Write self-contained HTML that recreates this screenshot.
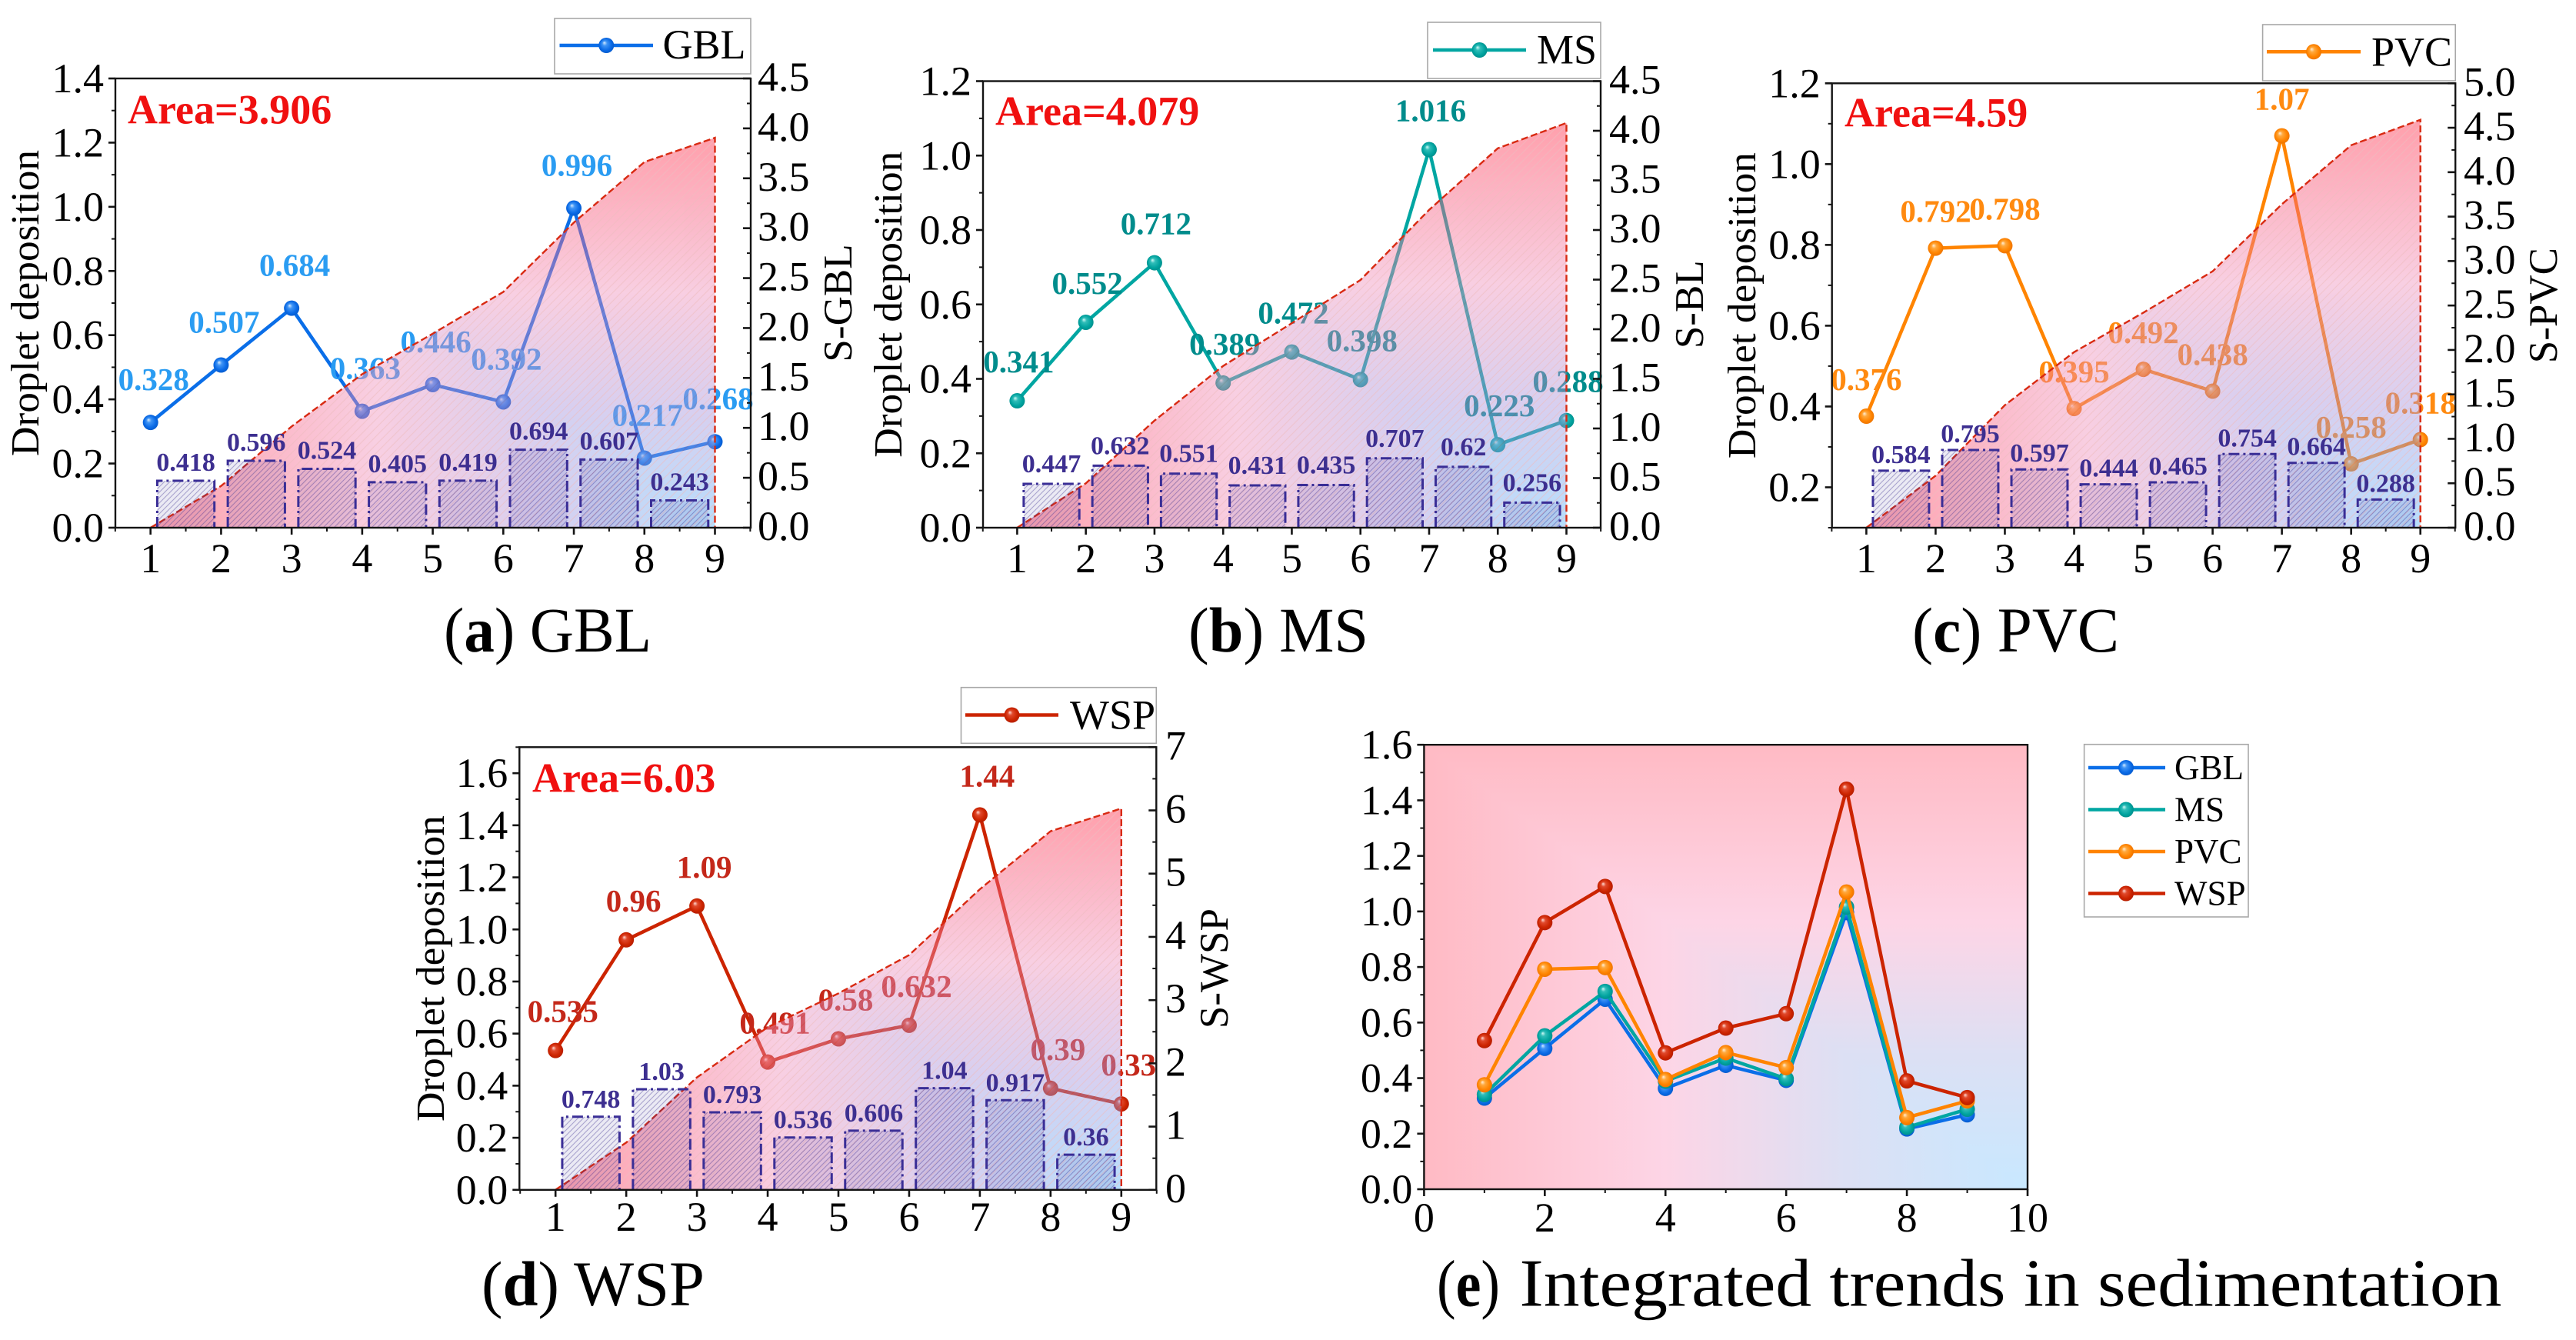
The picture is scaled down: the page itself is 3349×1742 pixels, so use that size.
<!DOCTYPE html>
<html lang="en">
<head>
<meta charset="utf-8">
<title>Droplet deposition by paper type</title>
<style>
html,body{margin:0;padding:0;background:#fff;width:3349px;height:1742px;overflow:hidden}
svg{display:block;font-family:"Liberation Serif",serif}
</style>
</head>
<body>
<svg id="figure" xmlns="http://www.w3.org/2000/svg" width="3349" height="1742" viewBox="0 0 3349 1742">
<defs>
<linearGradient id="areaH" x1="1" y1="0" x2="0" y2="0"><stop offset="0" stop-color="#61b6f9"/><stop offset=".3" stop-color="#a997de"/><stop offset=".6" stop-color="#f095bf"/><stop offset="1" stop-color="#ff2c47"/></linearGradient>
<linearGradient id="areaV" x1="0" y1="1" x2="0" y2="0"><stop offset="0" stop-color="#61b6f9"/><stop offset=".3" stop-color="#a997de"/><stop offset=".6" stop-color="#f095bf"/><stop offset="1" stop-color="#ff2c47"/></linearGradient>
<linearGradient id="bgH" x1="1" y1="0" x2="0" y2="0"><stop offset="0" stop-color="#c8e8ff"/><stop offset=".3" stop-color="#dce0f4"/><stop offset=".6" stop-color="#fdd5e6"/><stop offset="1" stop-color="#ffbac4"/></linearGradient>
<linearGradient id="bgV" x1="0" y1="1" x2="0" y2="0"><stop offset="0" stop-color="#c8e8ff"/><stop offset=".3" stop-color="#dce0f4"/><stop offset=".6" stop-color="#fdd5e6"/><stop offset="1" stop-color="#ffbac4"/></linearGradient>
<pattern id="areaHatch" patternUnits="userSpaceOnUse" width="11" height="11"><path d="M-1 1L1 -1M0 11L11 0M10 12L12 10" stroke="#d86a70" stroke-opacity=".55" stroke-width="1.2"/></pattern>
<pattern id="barHatch" patternUnits="userSpaceOnUse" width="7" height="7"><rect width="7" height="7" fill="#3c3296" fill-opacity=".1"/><path d="M-1 1L1 -1M0 7L7 0M6 8L8 6" stroke="#3a2e90" stroke-opacity=".38" stroke-width="1.1"/></pattern>
<radialGradient id="ball-GBL" cx=".5" cy=".5" r=".55" fx=".36" fy=".32"><stop offset="0" stop-color="#d8ecff"/><stop offset=".28" stop-color="#3f94f5"/><stop offset=".7" stop-color="#0a6ae6"/><stop offset="1" stop-color="#0558c8"/></radialGradient>
<radialGradient id="ball-MS" cx=".5" cy=".5" r=".55" fx=".36" fy=".32"><stop offset="0" stop-color="#d4fbf8"/><stop offset=".28" stop-color="#30bdb8"/><stop offset=".7" stop-color="#00a39f"/><stop offset="1" stop-color="#008a88"/></radialGradient>
<radialGradient id="ball-PVC" cx=".5" cy=".5" r=".55" fx=".36" fy=".32"><stop offset="0" stop-color="#ffeed8"/><stop offset=".28" stop-color="#ffa83c"/><stop offset=".7" stop-color="#ff8400"/><stop offset="1" stop-color="#e87000"/></radialGradient>
<radialGradient id="ball-WSP" cx=".5" cy=".5" r=".55" fx=".36" fy=".32"><stop offset="0" stop-color="#ffdcd6"/><stop offset=".28" stop-color="#e0492c"/><stop offset=".7" stop-color="#cc2400"/><stop offset="1" stop-color="#b01c00"/></radialGradient>
</defs>
</svg>
<script>
const categories = [1, 2, 3, 4, 5, 6, 7, 8, 9];

const gblValues = [0.328, 0.507, 0.684, 0.363, 0.446, 0.392, 0.996, 0.217, 0.268];
const msValues = [0.341, 0.552, 0.712, 0.389, 0.472, 0.398, 1.016, 0.223, 0.288];
const pvcValues = [0.376, 0.792, 0.798, 0.395, 0.492, 0.438, 1.07, 0.258, 0.318];
const wspValues = [0.535, 0.96, 1.09, 0.491, 0.58, 0.632, 1.44, 0.39, 0.33];

const gblSegments = [0.418, 0.596, 0.524, 0.405, 0.419, 0.694, 0.607, 0.243];
const msSegments = [0.447, 0.632, 0.551, 0.431, 0.435, 0.707, 0.62, 0.256];
const pvcSegments = [0.584, 0.795, 0.597, 0.444, 0.465, 0.754, 0.664, 0.288];
const wspSegments = [0.748, 1.03, 0.793, 0.536, 0.606, 1.04, 0.917, 0.36];

const gblCumulative = [0, 0.418, 1.014, 1.538, 1.943, 2.362, 3.056, 3.663, 3.906];
const msCumulative = [0, 0.447, 1.079, 1.63, 2.061, 2.496, 3.203, 3.823, 4.079];
const pvcCumulative = [0, 0.584, 1.379, 1.976, 2.42, 2.885, 3.639, 4.303, 4.59];
const wspCumulative = [0, 0.748, 1.778, 2.571, 3.107, 3.713, 4.753, 5.67, 6.03];

const gblLeftTicks = ['0.0', '0.2', '0.4', '0.6', '0.8', '1.0', '1.2', '1.4'];
const msLeftTicks = ['0.0', '0.2', '0.4', '0.6', '0.8', '1.0', '1.2'];
const pvcLeftTicks = ['0.2', '0.4', '0.6', '0.8', '1.0', '1.2'];
const wspLeftTicks = ['0.0', '0.2', '0.4', '0.6', '0.8', '1.0', '1.2', '1.4', '1.6'];
const gblRightTicks = ['0.0', '0.5', '1.0', '1.5', '2.0', '2.5', '3.0', '3.5', '4.0', '4.5'];
const msRightTicks = ['0.0', '0.5', '1.0', '1.5', '2.0', '2.5', '3.0', '3.5', '4.0', '4.5'];
const pvcRightTicks = ['0.0', '0.5', '1.0', '1.5', '2.0', '2.5', '3.0', '3.5', '4.0', '4.5', '5.0'];
const wspRightTicks = ['0', '1', '2', '3', '4', '5', '6', '7'];
const summaryYTicks = ['0.0', '0.2', '0.4', '0.6', '0.8', '1.0', '1.2', '1.4', '1.6'];
const summaryXTicks = ['0', '2', '4', '6', '8', '10'];

const NS = 'http://www.w3.org/2000/svg';
const fig = document.getElementById('figure');
const AXIS = '#141414';
const TICK_FONT = 54;

function mk(tag, attrs, parent) {
  const el = document.createElementNS(NS, tag);
  for (const k in attrs) el.setAttribute(k, attrs[k]);
  parent.appendChild(el);
  return el;
}
function label(parent, str, attrs) {
  const el = mk('text', attrs, parent);
  el.textContent = str;
  return el;
}
function tick(parent, x1, y1, x2, y2, major) {
  const el = mk('line', {x1: x1, y1: y1, x2: x2, y2: y2, stroke: AXIS, 'stroke-width': major ? 2.6 : 2}, parent);
  
  
  return el;
}
function pathOf(pts) {
  return pts.map(function (p, i) { return (i ? 'L' : 'M') + p[0].toFixed(1) + ' ' + p[1].toFixed(1); }).join('');
}
function ball(parent, key, cx, cy) {
  const el = mk('circle', {cx: cx, cy: cy, r: 10, fill: 'url(#ball-' + key + ')'}, parent);
  
  
  return el;
}
function minorsBetween(values, lo, hi) {
  const out = [];
  for (let i = 0; i + 1 < values.length; i++) out.push((values[i] + values[i + 1]) / 2);
  const step = values[1] - values[0];
  if (values[0] - step / 2 >= lo - 1e-6) out.push(values[0] - step / 2);
  if (values[values.length - 1] + step / 2 <= hi + 1e-6) out.push(values[values.length - 1] + step / 2);
  return out;
}

const panels = [
  {key: 'GBL', values: gblValues, seg: gblSegments, cum: gblCumulative, lt: gblLeftTicks, rt: gblRightTicks,
   l: 150, r: 976, t: 102, b: 686, x1v: 195.7, x9v: 929.5, lMin: 0, lMax: 1.4, rMax: 4.5, barMax: 4.0,
   color: '#0a6ee8', text: '#2a9cf2', area: 'Area=3.906', areaX: 166, areaY: 160.5,
   ldx: 4, ldy: -42, bdy: -13, yTitleX: 50, sTitle: 'S-GBL', sX: 1107, rLabX: 985,
   leg: [721, 24, 255, 72], legLine: [727.5, 849, 59], legTextX: 861.5, legBase: 76, xBase: 744,
   capX: 577, capBase: 847, capL: 'a', capR: 'GBL', capLen: 270, capSize: 83},
  {key: 'MS', values: msValues, seg: msSegments, cum: msCumulative, lt: msLeftTicks, rt: msRightTicks,
   l: 1278, r: 2081, t: 105.5, b: 686, x1v: 1322.4, x9v: 2036.5, lMin: 0, lMax: 1.2, rMax: 4.5, barMax: 4.55,
   color: '#00a6a2', text: '#008c8c', area: 'Area=4.079', areaX: 1294, areaY: 162.7,
   ldx: 2, ldy: -37, bdy: -15, yTitleX: 1172, sTitle: 'S-BL', sX: 2214, rLabX: 2092,
   leg: [1856, 29, 225, 73], legLine: [1863, 1984, 65], legTextX: 1998, legBase: 82.5, xBase: 744,
   capX: 1545, capBase: 847, capL: 'b', capR: 'MS', capLen: 234, capSize: 83},
  {key: 'PVC', values: pvcValues, seg: pvcSegments, cum: pvcCumulative, lt: pvcLeftTicks, rt: pvcRightTicks,
   l: 2381.7, r: 3192.2, t: 108.3, b: 686, x1v: 2426.4, x9v: 3146.7, lMin: 0.1, lMax: 1.2, rMax: 5, barMax: 4.55,
   color: '#ff8400', text: '#ff8a10', area: 'Area=4.59', areaX: 2398, areaY: 164.4,
   ldx: 0, ldy: -34, bdy: -10, yTitleX: 2282, sTitle: 'S-PVC', sX: 3324, rLabX: 3203,
   leg: [2941.6, 32, 250.6, 73], legLine: [2947, 3069, 67.3], legTextX: 3083, legBase: 85.3, xBase: 744,
   capX: 2486, capBase: 847, capL: 'c', capR: 'PVC', capLen: 269, capSize: 83},
  {key: 'WSP', values: wspValues, seg: wspSegments, cum: wspCumulative, lt: wspLeftTicks, rt: wspRightTicks,
   l: 675.3, r: 1503.3, t: 971.3, b: 1546.8, x1v: 722.2, x9v: 1457.8, lMin: 0, lMax: 1.7, rMax: 7, barMax: 4.53,
   color: '#cc2400', text: '#c4281a', area: 'Area=6.03', areaX: 692, areaY: 1029.5,
   ldx: 9.5, ldy: -37, bdy: -12, yTitleX: 577, sTitle: 'S-WSP', sX: 1596, rLabX: 1515,
   leg: [1249.5, 893.7, 253.8, 72.6], legLine: [1255, 1376, 929.5], legTextX: 1391, legBase: 947.6, xBase: 1600,
   capX: 626, capBase: 1697, capL: 'd', capR: 'WSP', capLen: 290, capSize: 83}
];

panels.forEach(function (p) {
  const name = p.key.toLowerCase();
  const X = function (v) { return p.x1v + (v - 1) * (p.x9v - p.x1v) / 8; };
  const YL = function (v) { return p.b - (v - p.lMin) / (p.lMax - p.lMin) * (p.b - p.t); };
  const YR = function (v) { return p.b - v / p.rMax * (p.b - p.t); };
  const YB = function (v) { return p.b - v / p.barMax * (p.b - p.t); };
  const g = mk('g', {}, fig);
  
  

  // deposition line and its value labels sit beneath the translucent area
  const linePts = categories.map(function (c, i) { return [X(c), YL(p.values[i])]; });
  const line = mk('path', {d: pathOf(linePts), fill: 'none', stroke: p.color, 'stroke-width': 4.5, 'stroke-linejoin': 'round'}, g);
  
  
  categories.forEach(function (c, i) {
    ball(g, p.key, X(c), YL(p.values[i]));
    const t = label(g, String(p.values[i]), {x: X(c) + p.ldx, y: YL(p.values[i]) + p.ldy, 'text-anchor': 'middle', 'font-size': 41, 'font-weight': 'bold', fill: p.text});
    
    
  });

  // cumulative area
  const areaPts = categories.map(function (c, i) { return [X(c), YR(p.cum[i])]; });
  const closed = pathOf(areaPts) + 'L' + X(9).toFixed(1) + ' ' + p.b + 'Z';
  const clip = mk('clipPath', {id: 'clip-' + name}, g);
  
  
  mk('path', {d: closed}, clip);
  const top = YR(p.cum[p.cum.length - 1]);
  const ag = mk('g', {'clip-path': 'url(#clip-' + name + ')', opacity: 0.45}, g);
  
  
  const bx0 = X(1), bx1 = X(9);
  mk('rect', {x: bx0, y: top, width: bx1 - bx0, height: p.b - top, fill: 'url(#areaV)'}, ag);
  mk('polygon', {points: bx0 + ',' + top + ' ' + bx1 + ',' + p.b + ' ' + bx0 + ',' + p.b, fill: 'url(#areaH)'}, ag);
  mk('rect', {x: bx0, y: top, width: bx1 - bx0, height: p.b - top, fill: 'url(#areaHatch)'}, ag);
  const edge = mk('path', {d: pathOf(areaPts) + 'L' + X(9).toFixed(1) + ' ' + p.b, fill: 'none', stroke: '#d82a12', 'stroke-width': 2.4, 'stroke-dasharray': '9 4'}, g);
  
  

  // segment bars
  p.seg.forEach(function (v, i) {
    const cx = X(categories[i]) + (X(2) - X(1)) / 2;
    const w = (X(2) - X(1)) * 0.81;
    const y = YB(v);
    const bar = mk('rect', {x: cx - w / 2, y: y, width: w, height: p.b - y, fill: 'url(#barHatch)'}, g);
    
    
    const edgeBar = mk('path', {d: 'M' + (cx - w / 2) + ' ' + p.b + 'V' + y + 'H' + (cx + w / 2) + 'V' + p.b, fill: 'none', stroke: '#3a2e96', 'stroke-width': 3, 'stroke-dasharray': '14 5 3 5'}, g);
    
    
    const t = label(g, String(v), {x: cx, y: y + p.bdy, 'text-anchor': 'middle', 'font-size': 34, 'font-weight': 'bold', fill: '#3d2f90'});
    
    
  });

  // frame
  const frame = mk('rect', {x: p.l, y: p.t, width: p.r - p.l, height: p.b - p.t, fill: 'none', stroke: AXIS, 'stroke-width': 2.4}, g);
  
  

  // left axis
  const lNums = p.lt.map(Number);
  p.lt.forEach(function (s) {
    const v = Number(s);
    tick(g, p.l - 9, YL(v), p.l, YL(v), true);
    const t = label(g, s, {x: p.l - 15, y: YL(v) + 18, 'text-anchor': 'end', 'font-size': TICK_FONT, fill: '#000'});
    
    
  });
  minorsBetween(lNums, p.lMin, p.lMax).forEach(function (v) { tick(g, p.l - 5, YL(v), p.l, YL(v), false); });

  // right axis (ticks point inward)
  const rNums = p.rt.map(Number);
  p.rt.forEach(function (s) {
    const v = Number(s);
    tick(g, p.r - 10, YR(v), p.r, YR(v), true);
    const t = label(g, s, {x: p.rLabX, y: YR(v) + 16, 'font-size': TICK_FONT, fill: '#000'});
    
    
  });
  minorsBetween(rNums, 0, p.rMax).forEach(function (v) { tick(g, p.r - 5, YR(v), p.r, YR(v), false); });

  // x axis
  categories.forEach(function (c) {
    tick(g, X(c), p.b, X(c), p.b + 9, true);
    const t = label(g, String(c), {x: X(c), y: p.xBase, 'text-anchor': 'middle', 'font-size': TICK_FONT, fill: '#000'});
    
    
    tick(g, X(c) - (X(2) - X(1)) / 2, p.b, X(c) - (X(2) - X(1)) / 2, p.b + 5, false);
  });
  tick(g, X(9) + (X(2) - X(1)) / 2, p.b, X(9) + (X(2) - X(1)) / 2, p.b + 5, false);

  // axis titles
  const midY = (p.t + p.b) / 2;
  const yt = label(g, 'Droplet deposition', {transform: 'translate(' + p.yTitleX + ',' + (midY) + ') rotate(-90)', 'text-anchor': 'middle', 'font-size': 52, textLength: 398, lengthAdjust: 'spacingAndGlyphs', fill: '#000'});
  
  
  const st = label(g, p.sTitle, {transform: 'translate(' + p.sX + ',' + (midY) + ') rotate(-90)', 'text-anchor': 'middle', 'font-size': 53, fill: '#000'});
  
  

  // area annotation
  const at = label(g, p.area, {x: p.areaX, y: p.areaY, 'font-size': 54, 'font-weight': 'bold', fill: '#f01010'});
  
  

  // legend
  const lg = mk('g', {}, g);
  
  
  const box = mk('rect', {x: p.leg[0], y: p.leg[1], width: p.leg[2], height: p.leg[3], fill: '#fff', stroke: '#a8a8a8', 'stroke-width': 1.6}, lg);
  
  
  const ll = mk('line', {x1: p.legLine[0], y1: p.legLine[2], x2: p.legLine[1], y2: p.legLine[2], stroke: p.color, 'stroke-width': 4.5}, lg);
  
  
  ball(lg, p.key, (p.legLine[0] + p.legLine[1]) / 2, p.legLine[2]);
  const lt = label(lg, p.key, {x: p.legTextX, y: p.legBase, 'font-size': 54, fill: '#000'});
  
  

  // caption
  const cap = mk('text', {x: p.capX, y: p.capBase, 'font-size': p.capSize, textLength: p.capLen, lengthAdjust: 'spacingAndGlyphs', fill: '#000'}, g);
  
  
  cap.appendChild(document.createTextNode('('));
  const capB = mk('tspan', {'font-weight': 'bold'}, cap);
  capB.textContent = p.capL;
  cap.appendChild(document.createTextNode(') ' + p.capR));
});

// summary panel (e)
(function () {
  const L = 1851.4, R = 2636, T = 968.2, B = 1546;
  const X = function (v) { return L + v / 10 * (R - L); };
  const Y = function (v) { return B - v / 1.6 * (B - T); };
  const g = mk('g', {}, fig);
  
  
  const bg = mk('g', {}, g);
  
  
  mk('rect', {x: L, y: T, width: R - L, height: B - T, fill: 'url(#bgV)'}, bg);
  mk('polygon', {points: L + ',' + T + ' ' + R + ',' + B + ' ' + L + ',' + B, fill: 'url(#bgH)'}, bg);

  const series = [
    {key: 'GBL', values: gblValues, color: '#0a6ee8'},
    {key: 'MS', values: msValues, color: '#00a6a2'},
    {key: 'PVC', values: pvcValues, color: '#ff8400'},
    {key: 'WSP', values: wspValues, color: '#cc2400'}
  ];
  series.forEach(function (s) {
    const pts = categories.map(function (c, i) { return [X(c), Y(s.values[i])]; });
    const ln = mk('path', {d: pathOf(pts), fill: 'none', stroke: s.color, 'stroke-width': 4.5, 'stroke-linejoin': 'round'}, g);
    
    
    categories.forEach(function (c, i) { ball(g, s.key, X(c), Y(s.values[i])); });
  });

  const frame = mk('rect', {x: L, y: T, width: R - L, height: B - T, fill: 'none', stroke: AXIS, 'stroke-width': 2.4}, g);
  
  

  summaryYTicks.forEach(function (s) {
    const v = Number(s);
    tick(g, L - 9, Y(v), L, Y(v), true);
    const t = label(g, s, {x: L - 15, y: Y(v) + 18, 'text-anchor': 'end', 'font-size': TICK_FONT, fill: '#000'});
    
    
  });
  minorsBetween(summaryYTicks.map(Number), 0, 1.6).forEach(function (v) { tick(g, L - 5, Y(v), L, Y(v), false); });
  summaryXTicks.forEach(function (s) {
    const v = Number(s);
    tick(g, X(v), B, X(v), B + 9, true);
    const t = label(g, s, {x: X(v), y: 1601, 'text-anchor': 'middle', 'font-size': TICK_FONT, fill: '#000'});
    
    
  });
  minorsBetween(summaryXTicks.map(Number), 0, 10).forEach(function (v) { tick(g, X(v), B, X(v), B + 5, false); });

  const lg = mk('g', {}, g);
  
  
  const box = mk('rect', {x: 2709.6, y: 967.7, width: 213.4, height: 224.3, fill: '#fff', stroke: '#a8a8a8', 'stroke-width': 1.6}, lg);
  
  
  series.forEach(function (s, i) {
    const y = 998 + i * 54.5;
    const ll = mk('line', {x1: 2715, y1: y, x2: 2815, y2: y, stroke: s.color, 'stroke-width': 4.5}, lg);
    
    
    ball(lg, s.key, 2764, y);
    const t = label(lg, s.key, {x: 2827, y: y + 15, 'font-size': 45, fill: '#000'});
    
    
  });

  const capTag = mk('text', {x: 1868, y: 1697.5, 'font-size': 86, textLength: 82, lengthAdjust: 'spacingAndGlyphs', fill: '#000'}, g);
  
  
  capTag.appendChild(document.createTextNode('('));
  const capB = mk('tspan', {'font-weight': 'bold'}, capTag);
  capB.textContent = 'e';
  capTag.appendChild(document.createTextNode(')'));
  const cap = label(g, 'Integrated trends in sedimentation', {x: 1975.5, y: 1697.5, 'font-size': 88, textLength: 1277, lengthAdjust: 'spacingAndGlyphs', fill: '#000'});
  
  
})();
</script>
</body>
</html>
